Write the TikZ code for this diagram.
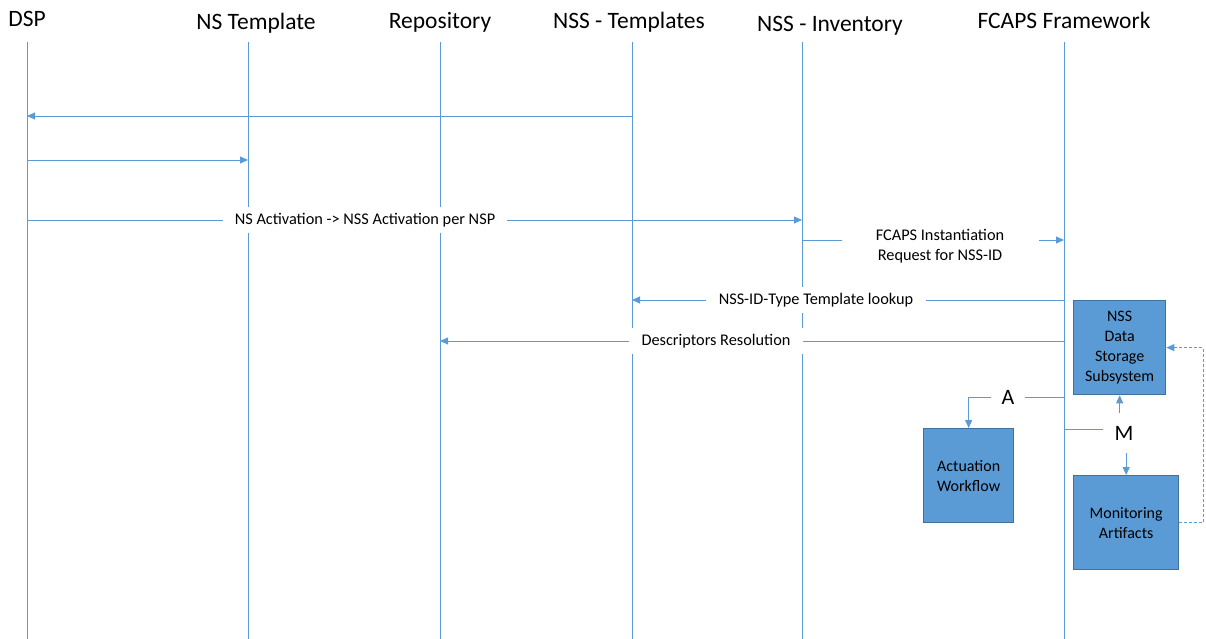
\documentclass[tikz,border=0pt]{standalone}
\usepackage{fontspec}
\setmainfont{Carlito}
\usetikzlibrary{arrows.meta,calc}
\definecolor{ln}{HTML}{5B9BD5}
\definecolor{bx}{HTML}{5B9BD5}
\definecolor{bxd}{HTML}{41719C}
\begin{document}
\begin{tikzpicture}[x=1pt,y=-1pt,
  life/.style={draw=ln,line width=0.9pt},
  msg/.style={draw=ln,line width=0.9pt,-{Triangle[length=8pt,width=7pt]}},
  plain/.style={draw=ln,line width=0.9pt},
  lbl/.style={fill=white,font=\fontsize{16.3}{19.5}\selectfont,inner xsep=12pt,inner ysep=6pt},
  big/.style={fill=white,font=\fontsize{22}{26}\selectfont,inner xsep=10pt,inner ysep=6pt},
  hdr/.style={font=\fontsize{23.5}{28}\selectfont,anchor=base,inner sep=0pt},
  blk/.style={draw=bxd,fill=bx,line width=1.3pt,font=\fontsize{16}{20}\selectfont,align=center,anchor=north west,inner sep=0pt}
]
\useasboundingbox (0,0) rectangle (1206,639);
% headers
\node[hdr] (hdsp) at (27,27) {DSP};
\node[hdr] (hnst) at (256,30) {NS Template};
\node[hdr] (hrepo) at (440,29) {Repository};
\node[hdr] (hnsst) at (629,29) {NSS - Templates};
\node[hdr] (hnssi) at (830,32) {NSS - Inventory};
\node[hdr] (hfc) at (1064,29) {FCAPS Framework};
% lifelines
\coordinate (Tdsp) at (27,42);   \coordinate (Bdsp) at (27,639);
\coordinate (Tnst) at (248,42);  \coordinate (Bnst) at (248,639);
\coordinate (Trepo) at (440,42); \coordinate (Brepo) at (440,639);
\coordinate (Tnsst) at (632,42); \coordinate (Bnsst) at (632,639);
\coordinate (Tnssi) at (802,42); \coordinate (Bnssi) at (802,639);
\coordinate (Tfc) at (1064,42);  \coordinate (Bfc) at (1064,639);
\foreach \l in {dsp,nst,repo,nsst,nssi,fc} \draw[life] (T\l) -- (B\l);
% message levels
\coordinate (m1) at (0,116);
\coordinate (m2) at (0,160);
\coordinate (m3) at (0,220);
\coordinate (m4) at (0,240);
\coordinate (m5) at (0,300);
\coordinate (m6) at (0,341);
\coordinate (m7) at (0,397);
\coordinate (m8) at (0,429);
% boxes
\node[blk,minimum width=92pt,minimum height=94pt] (nss) at (1073,300) {NSS\\Data\\Storage\\Subsystem};
\node[blk,minimum width=90pt,minimum height=94pt] (act) at (923,428) {Actuation\\Workflow};
\node[blk,minimum width=105pt,minimum height=94pt] (mon) at (1073,475) {Monitoring\\Artifacts};
% messages
\draw[msg] (Tnsst |- m1) -- (Tdsp |- m1);
\draw[msg] (Tdsp |- m2) -- (Tnst |- m2);
\draw[msg] (Tdsp |- m3) -- (Tnssi |- m3);
\node[lbl] (l3) at (365,220) {NS Activation -> NSS Activation per NSP};
\draw[msg] (Tnssi |- m4) -- (Tfc |- m4);
\node[lbl,align=center,minimum width=197pt,inner xsep=0pt] (l4) at (940,246) {FCAPS Instantiation\\Request for NSS-ID};
\draw[msg] (Tfc |- m5) -- (Tnsst |- m5);
\node[lbl,inner xsep=13pt] (l5) at (816,300) {NSS-ID-Type Template lookup};
\draw[msg] (Tfc |- m6) -- (Trepo |- m6);
\node[lbl,minimum width=174pt,inner xsep=0pt] (l6) at (716,341) {Descriptors Resolution};
% A branch
\node[big,minimum width=34pt,inner xsep=0pt] (A) at (1008,397) {A};
\draw[plain] (Tfc |- m7) -- (A.east);
\draw[msg] (A.west) -| (act.north);
% M branch
\node[font=\fontsize{22}{26}\selectfont,minimum width=42pt,minimum height=40pt,inner sep=0pt] (M) at (1124,433) {M};
\draw[plain] (Tfc |- m8) -- (M.west |- m8);
\draw[msg] (M.north -| nss.south) -- (nss.south);
\draw[msg] (M.south -| mon.north) -- (mon.north);
% dashed feedback
\draw[draw=ln,line width=0.9pt,dash pattern=on 3pt off 2pt,-{Triangle[length=8pt,width=7pt]}] (mon.east) -- ++(24,0) |- (nss.east);
\end{tikzpicture}
\end{document}
